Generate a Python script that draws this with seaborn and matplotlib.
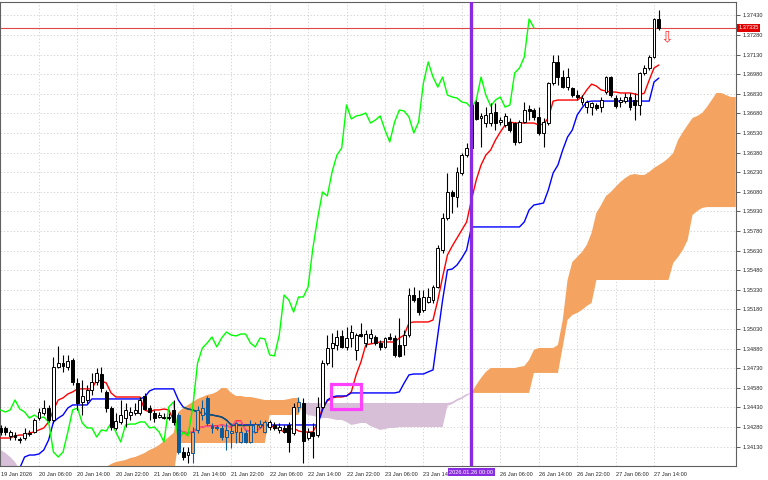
import numpy as np
import seaborn as sns
import matplotlib.pyplot as plt
from matplotlib.collections import LineCollection
from matplotlib.patches import Rectangle
from matplotlib.transforms import blended_transform_factory

# GBPUSD, H1 bars from 19 Jan 22:00 to 27 Jan 15:00 (index 0 .. 137)
opens = [
    1.34273, 1.34273, 1.34212, 1.34219, 1.34189, 1.34196, 1.34227, 1.34242, 1.34349, 1.34388,
    1.34426, 1.34334, 1.34740, 1.34770, 1.34740, 1.34793, 1.34617, 1.34472, 1.34487, 1.34564,
    1.34625, 1.34686, 1.34549, 1.34426, 1.34273, 1.34319, 1.34349, 1.34372, 1.34388, 1.34388,
    1.34518, 1.34426, 1.34388, 1.34357, 1.34357, 1.34349, 1.34411, 1.34372, 1.34089, 1.34066,
    1.34082, 1.34258, 1.34372, 1.34503, 1.34288, 1.34280, 1.34273, 1.34204, 1.34235, 1.34242,
    1.34166, 1.34235, 1.34166, 1.34242, 1.34280, 1.34242, 1.34280, 1.34296, 1.34258, 1.34273,
    1.34296, 1.34235, 1.34433, 1.34464, 1.34196, 1.34242, 1.34219, 1.34433, 1.34770, 1.34885,
    1.34908, 1.34977, 1.34893, 1.34961, 1.34870, 1.34992, 1.34923, 1.34961, 1.34969, 1.34923,
    1.34893, 1.34969, 1.34961, 1.34908, 1.34908, 1.34984, 1.35290, 1.35267, 1.35176, 1.35237,
    1.35252, 1.35352, 1.35635, 1.35879, 1.36078, 1.36040, 1.36224, 1.36361, 1.36415, 1.36767,
    1.36644, 1.36606, 1.36606, 1.36690, 1.36614, 1.36591, 1.36614, 1.36606, 1.36461, 1.36614,
    1.36713, 1.36706, 1.36652, 1.36530, 1.36606, 1.36912, 1.37073, 1.36958, 1.36881, 1.36874,
    1.36820, 1.36767, 1.36728, 1.36728, 1.36744, 1.36728, 1.36843, 1.36958, 1.36797, 1.36767,
    1.36774, 1.36805, 1.36782, 1.36744, 1.36989, 1.37027, 1.37111, 1.37402,
]
highs = [
    1.34296, 1.34288, 1.34258, 1.34242, 1.34204, 1.34273, 1.34258, 1.34349, 1.34426, 1.34487,
    1.34449, 1.34816, 1.34900, 1.34832, 1.34832, 1.34808, 1.34656, 1.34640, 1.34602, 1.34694,
    1.34732, 1.34740, 1.34564, 1.34441, 1.34388, 1.34487, 1.34464, 1.34433, 1.34464, 1.34510,
    1.34541, 1.34449, 1.34411, 1.34395, 1.34388, 1.34388, 1.34487, 1.34388, 1.34127, 1.34127,
    1.34280, 1.34441, 1.34487, 1.34518, 1.34311, 1.34296, 1.34296, 1.34311, 1.34311, 1.34319,
    1.34280, 1.34258, 1.34334, 1.34319, 1.34334, 1.34334, 1.34334, 1.34319, 1.34311, 1.34296,
    1.34319, 1.34464, 1.34510, 1.34503, 1.34273, 1.34311, 1.34510, 1.34793, 1.34984, 1.35000,
    1.35023, 1.35023, 1.35045, 1.35061, 1.35000, 1.35076, 1.35023, 1.35030, 1.34984, 1.34946,
    1.34969, 1.35000, 1.34984, 1.35114, 1.35023, 1.35344, 1.35352, 1.35329, 1.35329, 1.35344,
    1.35367, 1.35673, 1.35918, 1.36224, 1.36094, 1.36270, 1.36377, 1.36453, 1.36782, 1.36782,
    1.36683, 1.36728, 1.36759, 1.36759, 1.36652, 1.36683, 1.36644, 1.36614, 1.36629, 1.36767,
    1.36744, 1.36721, 1.36728, 1.36644, 1.36920, 1.37126, 1.37126, 1.37012, 1.37027, 1.36881,
    1.36859, 1.36820, 1.36782, 1.36767, 1.36759, 1.36805, 1.36966, 1.36966, 1.36820, 1.36805,
    1.36836, 1.36836, 1.36836, 1.36996, 1.37050, 1.37126, 1.37409, 1.37471,
]
lows = [
    1.34219, 1.34219, 1.34181, 1.34181, 1.34158, 1.34181, 1.34212, 1.34235, 1.34334, 1.34372,
    1.34319, 1.34311, 1.34732, 1.34702, 1.34717, 1.34602, 1.34411, 1.34372, 1.34464, 1.34526,
    1.34602, 1.34549, 1.34395, 1.34258, 1.34258, 1.34303, 1.34280, 1.34334, 1.34372, 1.34372,
    1.34411, 1.34334, 1.34319, 1.34349, 1.34342, 1.34334, 1.34296, 1.34074, 1.34028, 1.34005,
    1.34005, 1.34235, 1.34334, 1.34296, 1.34235, 1.34258, 1.34181, 1.34105, 1.34120, 1.34158,
    1.34158, 1.34158, 1.34158, 1.34235, 1.34273, 1.34235, 1.34258, 1.34258, 1.34235, 1.34235,
    1.34089, 1.34219, 1.34395, 1.34005, 1.34181, 1.34043, 1.34204, 1.34426, 1.34755, 1.34740,
    1.34870, 1.34885, 1.34870, 1.34893, 1.34793, 1.34969, 1.34893, 1.34923, 1.34908, 1.34870,
    1.34885, 1.34946, 1.34816, 1.34816, 1.34832, 1.34969, 1.35237, 1.35137, 1.35160, 1.35229,
    1.35229, 1.35344, 1.35612, 1.35864, 1.35918, 1.35963, 1.36209, 1.36346, 1.36400, 1.36629,
    1.36423, 1.36576, 1.36583, 1.36553, 1.36591, 1.36576, 1.36537, 1.36438, 1.36453, 1.36606,
    1.36629, 1.36629, 1.36514, 1.36423, 1.36591, 1.36897, 1.36897, 1.36874, 1.36859, 1.36805,
    1.36782, 1.36744, 1.36683, 1.36667, 1.36706, 1.36690, 1.36828, 1.36805, 1.36721, 1.36728,
    1.36759, 1.36706, 1.36629, 1.36667, 1.36973, 1.37012, 1.37103, 1.37318,
]
closes = [
    1.34242, 1.34242, 1.34242, 1.34204, 1.34181, 1.34235, 1.34235, 1.34334, 1.34395, 1.34426,
    1.34334, 1.34740, 1.34770, 1.34747, 1.34786, 1.34625, 1.34464, 1.34518, 1.34564, 1.34625,
    1.34694, 1.34579, 1.34426, 1.34280, 1.34326, 1.34372, 1.34411, 1.34395, 1.34411, 1.34487,
    1.34418, 1.34395, 1.34349, 1.34372, 1.34349, 1.34357, 1.34319, 1.34089, 1.34051, 1.34089,
    1.34242, 1.34411, 1.34426, 1.34311, 1.34273, 1.34273, 1.34204, 1.34258, 1.34250, 1.34311,
    1.34242, 1.34166, 1.34296, 1.34303, 1.34303, 1.34319, 1.34319, 1.34273, 1.34280, 1.34242,
    1.34166, 1.34433, 1.34472, 1.34173, 1.34242, 1.34212, 1.34433, 1.34770, 1.34885, 1.34923,
    1.34969, 1.34893, 1.34961, 1.35007, 1.34984, 1.34977, 1.34992, 1.34992, 1.34923, 1.34893,
    1.34961, 1.34954, 1.34832, 1.34824, 1.34984, 1.35290, 1.35252, 1.35160, 1.35275, 1.35275,
    1.35352, 1.35650, 1.35879, 1.36078, 1.36048, 1.36232, 1.36361, 1.36415, 1.36744, 1.36637,
    1.36660, 1.36667, 1.36683, 1.36606, 1.36629, 1.36660, 1.36553, 1.36461, 1.36614, 1.36706,
    1.36698, 1.36652, 1.36530, 1.36614, 1.36912, 1.37073, 1.36958, 1.36881, 1.36958, 1.36820,
    1.36805, 1.36797, 1.36767, 1.36759, 1.36721, 1.36782, 1.36958, 1.36820, 1.36736, 1.36782,
    1.36805, 1.36728, 1.36744, 1.36989, 1.37027, 1.37111, 1.37402, 1.37335,
]
# Ichimoku: Tenkan-sen, Kijun-sen (per bar), Senkou A/B (already shifted, index 0 .. 153)
tenkan = [
    1.34196, 1.34196, 1.34196, 1.34212, 1.34219, 1.34219, 1.34235, 1.34242, 1.34258, 1.34273,
    1.34319, 1.34411, 1.34487, 1.34503, 1.34533, 1.34549, 1.34572, 1.34572, 1.34572, 1.34572,
    1.34640, 1.34633, 1.34617, 1.34541, 1.34510, 1.34510, 1.34510, 1.34510, 1.34510, 1.34510,
    1.34411, 1.34395, 1.34411, 1.34411, 1.34418, 1.34411, 1.34334, 1.34258, 1.34242, 1.34235,
    1.34242, 1.34273, 1.34280, 1.34288, 1.34288, 1.34288, 1.34296, 1.34288, 1.34280, 1.34326,
    1.34326, 1.34258, 1.34242, 1.34242, 1.34273, 1.34296, 1.34288, 1.34280, 1.34265, 1.34242,
    1.34258, 1.34273, 1.34250, 1.34242, 1.34242, 1.34242, 1.34311, 1.34426, 1.34479, 1.34503,
    1.34510, 1.34510, 1.34518, 1.34549, 1.34679, 1.34778, 1.34908, 1.34916, 1.34923, 1.34931,
    1.34931, 1.34931, 1.34931, 1.34961, 1.34984, 1.35076, 1.35084, 1.35084, 1.35084, 1.35084,
    1.35099, 1.35252, 1.35428, 1.35596, 1.35665, 1.35726, 1.35788, 1.35849, 1.36017, 1.36170,
    1.36285, 1.36361, 1.36400, 1.36476, 1.36537, 1.36591, 1.36614, 1.36606, 1.36606, 1.36606,
    1.36606, 1.36606, 1.36591, 1.36598, 1.36644, 1.36774, 1.36782, 1.36782, 1.36782, 1.36782,
    1.36782, 1.36805, 1.36859, 1.36904, 1.36889, 1.36859, 1.36851, 1.36843, 1.36843, 1.36836,
    1.36836, 1.36836, 1.36828, 1.36820, 1.36836, 1.36935, 1.37027, 1.37050,
]
kijun = [
    1.33875, 1.33875, 1.33875, 1.33875, 1.33967, 1.34051, 1.34066, 1.34066, 1.34074, 1.34105,
    1.34181, 1.34319, 1.34349, 1.34372, 1.34426, 1.34449, 1.34449, 1.34449, 1.34449, 1.34495,
    1.34495, 1.34495, 1.34495, 1.34495, 1.34495, 1.34495, 1.34495, 1.34495, 1.34495, 1.34495,
    1.34510, 1.34556, 1.34572, 1.34572, 1.34572, 1.34572, 1.34572, 1.34487, 1.34433, 1.34418,
    1.34411, 1.34395, 1.34388, 1.34380, 1.34372, 1.34365, 1.34357, 1.34334, 1.34296, 1.34296,
    1.34296, 1.34296, 1.34296, 1.34296, 1.34296, 1.34296, 1.34296, 1.34296, 1.34296, 1.34296,
    1.34296, 1.34296, 1.34296, 1.34296, 1.34296, 1.34296, 1.34296, 1.34411, 1.34487, 1.34510,
    1.34518, 1.34518, 1.34518, 1.34541, 1.34541, 1.34541, 1.34541, 1.34541, 1.34541, 1.34541,
    1.34541, 1.34541, 1.34541, 1.34549, 1.34617, 1.34679, 1.34686, 1.34686, 1.34686, 1.34702,
    1.34717, 1.34984, 1.35252, 1.35482, 1.35489, 1.35520, 1.35573, 1.35635, 1.35811, 1.35811,
    1.35811, 1.35811, 1.35811, 1.35811, 1.35811, 1.35811, 1.35811, 1.35811, 1.35811, 1.35849,
    1.35941, 1.35979, 1.35986, 1.35994, 1.36094, 1.36224, 1.36285, 1.36400, 1.36499, 1.36553,
    1.36667, 1.36721, 1.36767, 1.36774, 1.36774, 1.36774, 1.36774, 1.36774, 1.36774, 1.36774,
    1.36774, 1.36774, 1.36774, 1.36774, 1.36774, 1.36774, 1.36920, 1.36950,
]
span_a = [
    1.33890, 1.33890, 1.33890, 1.33890, 1.33890, 1.33890, 1.33890, 1.33890, 1.33890, 1.33890,
    1.33890, 1.33890, 1.33890, 1.33890, 1.33890, 1.33890, 1.33890, 1.33890, 1.33890, 1.33890,
    1.33890, 1.33952, 1.33975, 1.33997, 1.34013, 1.34020, 1.34028, 1.34043, 1.34051, 1.34066,
    1.34082, 1.34105, 1.34120, 1.34143, 1.34173, 1.34204, 1.34235, 1.34395, 1.34426, 1.34449,
    1.34472, 1.34495, 1.34510, 1.34526, 1.34533, 1.34549, 1.34579, 1.34579, 1.34541, 1.34518,
    1.34518, 1.34510, 1.34510, 1.34503, 1.34495, 1.34487, 1.34487, 1.34487, 1.34487, 1.34487,
    1.34495, 1.34503, 1.34503, 1.34395, 1.34372, 1.34365, 1.34357, 1.34349, 1.34349, 1.34342,
    1.34334, 1.34334, 1.34319, 1.34296, 1.34303, 1.34311, 1.34311, 1.34288, 1.34273, 1.34258,
    1.34265, 1.34273, 1.34273, 1.34280, 1.34280, 1.34280, 1.34280, 1.34280, 1.34280, 1.34280,
    1.34280, 1.34280, 1.34280, 1.34441, 1.34456, 1.34479, 1.34495, 1.34518, 1.34541, 1.34602,
    1.34656, 1.34702, 1.34732, 1.34732, 1.34732, 1.34732, 1.34732, 1.34732, 1.34740, 1.34747,
    1.34793, 1.34870, 1.34885, 1.34885, 1.34885, 1.34885, 1.34908, 1.35099, 1.35405, 1.35543,
    1.35581, 1.35619, 1.35673, 1.35765, 1.35918, 1.35979, 1.36048, 1.36078, 1.36117, 1.36155,
    1.36185, 1.36209, 1.36216, 1.36209, 1.36209, 1.36232, 1.36262, 1.36285, 1.36308, 1.36338,
    1.36377, 1.36476, 1.36537, 1.36591, 1.36644, 1.36660, 1.36683, 1.36728, 1.36782, 1.36836,
    1.36836, 1.36820, 1.36805, 1.36805,
]
span_b = [
    1.34105, 1.34082, 1.34051, 1.34013, 1.33952, 1.33914, 1.33914, 1.33914, 1.33914, 1.33914,
    1.33914, 1.33914, 1.33914, 1.33914, 1.33914, 1.33914, 1.33914, 1.33914, 1.33914, 1.33914,
    1.33914, 1.33914, 1.33914, 1.33914, 1.33914, 1.33914, 1.33914, 1.33914, 1.33914, 1.33914,
    1.33914, 1.33914, 1.33914, 1.33914, 1.33914, 1.33914, 1.33914, 1.34158, 1.34158, 1.34158,
    1.34158, 1.34158, 1.34158, 1.34158, 1.34158, 1.34158, 1.34158, 1.34158, 1.34158, 1.34158,
    1.34158, 1.34158, 1.34158, 1.34158, 1.34158, 1.34158, 1.34372, 1.34372, 1.34372, 1.34372,
    1.34372, 1.34372, 1.34372, 1.34464, 1.34464, 1.34464, 1.34464, 1.34464, 1.34464, 1.34464,
    1.34464, 1.34464, 1.34464, 1.34464, 1.34464, 1.34464, 1.34464, 1.34464, 1.34464, 1.34464,
    1.34464, 1.34464, 1.34464, 1.34464, 1.34464, 1.34464, 1.34464, 1.34464, 1.34464, 1.34464,
    1.34464, 1.34464, 1.34464, 1.34464, 1.34472, 1.34495, 1.34510, 1.34533, 1.34541, 1.34541,
    1.34541, 1.34541, 1.34541, 1.34541, 1.34541, 1.34541, 1.34541, 1.34541, 1.34541, 1.34541,
    1.34541, 1.34694, 1.34694, 1.34694, 1.34694, 1.34694, 1.34694, 1.34893, 1.35099, 1.35137,
    1.35153, 1.35176, 1.35206, 1.35229, 1.35405, 1.35405, 1.35405, 1.35405, 1.35405, 1.35405,
    1.35405, 1.35405, 1.35405, 1.35405, 1.35405, 1.35405, 1.35405, 1.35405, 1.35405, 1.35405,
    1.35535, 1.35581, 1.35635, 1.35711, 1.35902, 1.35933, 1.35956, 1.35963, 1.35963, 1.35963,
    1.35963, 1.35963, 1.35963, 1.35963,
]

time_ticks = [0, 8, 16, 24, 32, 40, 48, 56, 64, 72, 80, 88, 104, 112, 120, 128, 136]
time_labels = ['19 Jan 2026', '20 Jan 06:00', '20 Jan 14:00', '20 Jan 22:00', '21 Jan 06:00',
               '21 Jan 14:00', '21 Jan 22:00', '22 Jan 06:00', '22 Jan 14:00', '22 Jan 22:00',
               '23 Jan 06:00', '23 Jan 14:00', '26 Jan 06:00', '26 Jan 14:00', '26 Jan 22:00',
               '27 Jan 06:00', '27 Jan 14:00']
price_labels = ['1.34130', '1.34280', '1.34430', '1.34580', '1.34730', '1.34880', '1.35030',
                '1.35180', '1.35330', '1.35480', '1.35630', '1.35780', '1.35930', '1.36080',
                '1.36230', '1.36380', '1.36530', '1.36680', '1.36830', '1.36980', '1.37130',
                '1.37280', '1.37430']
marker_bar = 98
marker_label = '2026.01.26 00:00'
bid = 1.37335
bid_label = '1.37335'
box_bars = (68.8, 75.0)
box_prices = (1.34418, 1.34609)
arrow_bar = 138.6
arrow_price = 1.37262

sns.set_style('white')
plt.rcParams['font.family'] = ['Liberation Sans', 'DejaVu Sans']

o, h, l, c = (np.array(v) for v in (opens, highs, lows, closes))
n = len(c)
bars = np.arange(n)
sa, sb = np.array(span_a), np.array(span_b)
cloud_x = np.arange(len(sa))

ORANGE, THISTLE = '#F4A460', '#D8BFD8'
FS = 4.1


def in_orange(x, v):
    a = np.interp(x, cloud_x, sa)
    b = np.interp(x, cloud_x, sb)
    return (a > b) & (v <= a) & (v >= b)


fig = plt.figure(figsize=(7.68, 4.8), dpi=100)
ax = fig.add_axes([0.0, 14 / 480, 736 / 768, 464 / 480])

grid_kw = dict(color='#cccccc', lw=0.6, ls=(0, (1.5, 2.5)), zorder=0)
for t in time_ticks[1:] + [96]:
    ax.axvline(t, **grid_kw)
for p in price_labels:
    ax.axhline(float(p), **grid_kw)

# kumo
ax.fill_between(cloud_x, sa, sb, where=sa >= sb, interpolate=True, color=ORANGE, lw=0, zorder=1)
ax.fill_between(cloud_x, sa, sb, where=sa <= sb, interpolate=True, color=THISTLE, lw=0, zorder=1)

# tenkan / kijun, with the xor-looking colours where they pass through the orange cloud
for vals, col, xcol in ((tenkan, '#FF0000', '#F45B9F'), (kijun, '#0000FF', '#0B5B60')):
    v = np.array(vals)
    sns.lineplot(x=bars, y=v, color=col, linewidth=1.0, ax=ax, zorder=3)
    mid_in = in_orange(bars[:-1] + 0.5, (v[:-1] + v[1:]) / 2)
    segs = [[(i, v[i]), (i + 1, v[i + 1])] for i in np.where(mid_in)[0]]
    ax.add_collection(LineCollection(segs, colors=xcol, linewidths=1.0, zorder=3.1))

# chikou span = close drawn 26 bars back
sns.lineplot(x=bars[:n - 26], y=c[26:], color='#00FF00', linewidth=1.0, ax=ax, zorder=4)

# candles
inside = in_orange(bars, (o + c) / 2)
edge = np.where(inside, '#0B5B9F', '#000000')
up = c >= o
face = np.where(up, np.where(inside, ORANGE, '#FFFFFF'), edge)
ax.vlines(bars, l, h, colors=edge, lw=0.8, zorder=5)
ax.bar(bars, np.maximum(np.abs(c - o), 0.00002), bottom=np.minimum(o, c), width=0.6,
       color=face, edgecolor=edge, linewidth=0.7, zorder=6)

ax.axhline(bid, color='#E04848', lw=0.8, zorder=2)
ax.axvline(marker_bar, color='#8A2BE2', lw=2.4, zorder=7)
ax.add_patch(Rectangle((box_bars[0], box_prices[0]), box_bars[1] - box_bars[0],
                       box_prices[1] - box_prices[0], fill=False, edgecolor='#FF40FF',
                       lw=2.3, zorder=8))
ax.text(arrow_bar, arrow_price, '\u21e9', color='#FF3030', fontsize=11,
        family=['DejaVu Sans'], ha='center', va='center', zorder=9)

ax.set_xlim(-0.12, 153.06)
ax.set_ylim(1.33982, 1.37532)
ax.yaxis.tick_right()
ax.set_yticks([float(p) for p in price_labels])
ax.set_yticklabels(price_labels)
ax.set_xticks(time_ticks)
ax.set_xticklabels(time_labels, ha='left')
ax.set_xlabel(None)
ax.set_ylabel(None)
ax.tick_params(axis='both', labelsize=FS, length=3, width=0.6, color='#404040', pad=1.5)
for sp in ax.spines.values():
    sp.set_color('#606060')
    sp.set_linewidth(0.8)

ax.text(1.003, bid, bid_label, transform=blended_transform_factory(ax.transAxes, ax.transData),
        fontsize=FS, color='white', ha='left', va='center', zorder=10, clip_on=False,
        bbox=dict(boxstyle='square,pad=0.25', fc='#E00000', ec='none'))
ax.text(marker_bar, -0.008, marker_label,
        transform=blended_transform_factory(ax.transData, ax.transAxes),
        fontsize=FS, color='white', ha='center', va='top', zorder=10, clip_on=False,
        bbox=dict(boxstyle='square,pad=0.3', fc='#8A2BE2', ec='none'))

fig.savefig('out.png', dpi=100)
